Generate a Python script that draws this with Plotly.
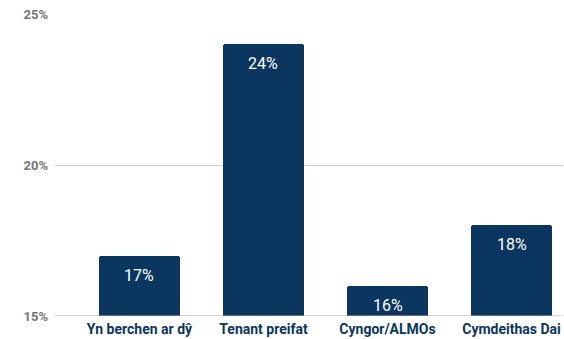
import plotly.graph_objects as go

categories = ["Yn berchen ar dŷ", "Tenant preifat", "Cyngor/ALMOs", "Cymdeithas Dai"]
values = [17, 24, 16, 18]
y_ticks = [15, 20, 25]
y_tick_labels = ["15%", "20%", "25%"]

navy = "#0b3660"
xs = list(range(len(categories)))

fig = go.Figure()
fig.add_trace(go.Bar(
    x=xs, y=values,
    marker=dict(color=navy, cornerradius=3, line=dict(width=0)),
    width=0.66, hoverinfo="skip",
))

# value labels just inside the top of each bar
for i, v in enumerate(values):
    fig.add_annotation(
        x=i, y=v, yref="y", xref="x", text=f"{v}%",
        showarrow=False, yanchor="top", yshift=-8,
        font=dict(family="Roboto", size=16, color="white"),
    )

fig.update_layout(
    width=564, height=339,
    margin=dict(l=55, r=1, t=14, b=23),
    paper_bgcolor="white", plot_bgcolor="white",
    showlegend=False, bargap=0,
    font=dict(family="Roboto"),
)
fig.update_xaxes(
    range=[-0.681, 3.415], tickmode="array", tickvals=xs, ticktext=categories,
    tickfont=dict(family="Roboto", size=14, color=navy, weight="bold"),
    showgrid=False, zeroline=False, showline=False, ticks="",
    ticklabelstandoff=3,
)
fig.update_yaxes(
    range=[15, 25], tickmode="array", tickvals=y_ticks, ticktext=y_tick_labels,
    tickfont=dict(family="Roboto", size=13, color="#757575", weight="bold"),
    showgrid=True, gridcolor="#cccccc", gridwidth=1, zeroline=False,
    ticks="", ticklabelstandoff=6,
)
fig.add_shape(type="line", xref="paper", yref="y", x0=0, x1=1, y0=15, y1=15,
              line=dict(color="#aaaaaa", width=1))

fig.write_html("out.html")
